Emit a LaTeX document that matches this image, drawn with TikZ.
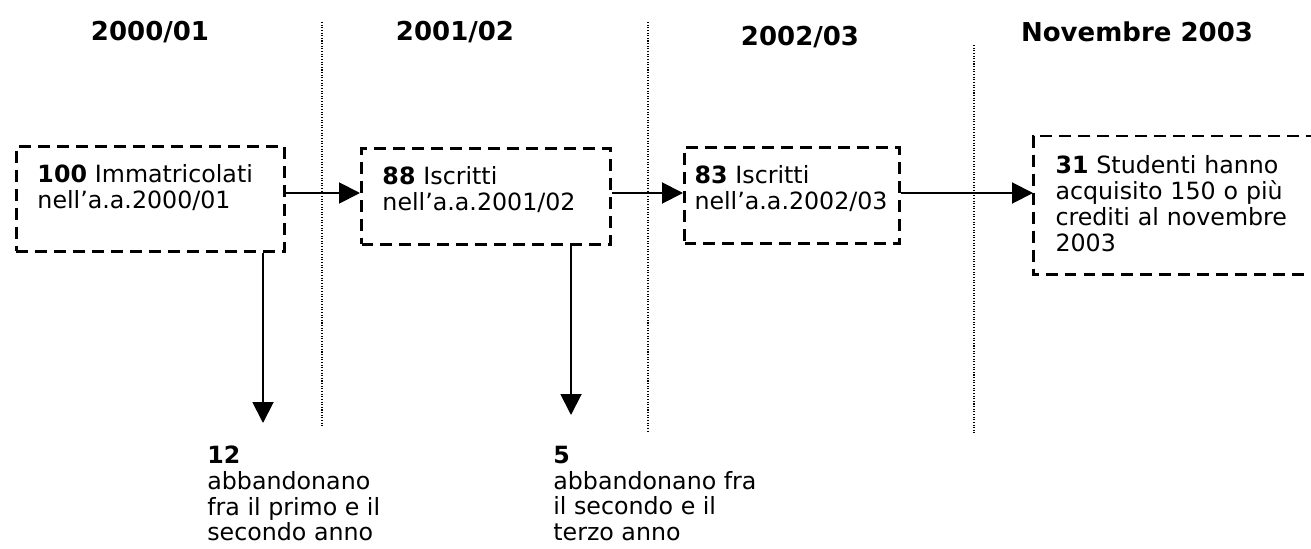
\documentclass[tikz,border=0pt]{standalone}
\usepackage{fontspec}
\setmainfont{DejaVu Sans}
\usetikzlibrary{arrows.meta}
\begin{document}
\begin{tikzpicture}[
	yearlabel/.style={font=\fontsize{14.8}{17}\selectfont\bfseries},
	stagebox/.style={draw,line width=1.7pt,dash pattern=on 6.8pt off 4pt,anchor=north west,align=left,
		inner xsep=0.42cm,inner ysep=0.36cm,text height=0.36cm,font=\fontsize{13.5}{14.8}\selectfont},
	droplabel/.style={anchor=north west,align=left,inner sep=0pt,font=\fontsize{13.5}{14.6}\selectfont},
	divider/.style={line width=0.6pt,dash pattern=on 0.6pt off 0.9pt},
	flow/.style={line width=1.1pt,-{Triangle[length=0.42cm,width=0.42cm]}}]
		\useasboundingbox (0,0) rectangle (26.22,10.96);
		% years
		\node[yearlabel] (y1) at (3.0,10.32) {2000/01};
		\node[yearlabel] (y2) at (9.1,10.32) {2001/02};
		\node[yearlabel] (y3) at (16.0,10.22) {2002/03};
		\node[yearlabel] (y4) at (22.74,10.32) {Novembre 2003};
		\draw [divider] (6.44,10.52)--(6.44,2.42);
		\draw [divider] (12.96,10.52)--(12.96,2.30);
		\draw [divider] (19.48,10.06)--(19.48,2.30);
		% boxes
		\node[stagebox,text width=4.52cm,text depth=1.02cm] (b1) at (0.30,8.06) {\textbf{100} Immatricolati\\nell’a.a.2000/01};
		\node[stagebox,text width=4.14cm,text depth=0.84cm] (b2) at (7.20,8.02) {\textbf{88} Iscritti\\nell’a.a.2001/02};
		\node[stagebox,inner xsep=0.2cm,text width=3.9cm,text depth=0.84cm] (b3) at (13.66,8.04) {\textbf{83} Iscritti\\nell’a.a.2002/03};
		\node[stagebox,draw=none,text width=4.8cm,text depth=1.64cm] (b4) at (20.66,8.24) {\textbf{31} Studenti hanno\\acquisito 150 o più\\crediti al novembre\\2003};
		\draw [line width=1.7pt,dash pattern=on 6.8pt off 4pt] (b4.north east)--(b4.north west)--(b4.south west)--(b4.south east);
		% arrows
		\coordinate (row) at (0,7.1);
		\draw [flow] (b1.east|-row)--(b2.west|-row);
		\draw [flow] (b2.east|-row)--(b3.west|-row);
		\draw [flow] (b3.east|-row)--(b4.west|-row);
		\coordinate (d1) at (5.26,2.5);
		\coordinate (d2) at (11.42,2.66);
		\draw [flow] (b1.south-|d1)--(d1);
		\draw [flow] (b2.south-|d2)--(d2);
		% drop outs
		\node[droplabel] (l1) at (4.14,2.04) {\textbf{12}\\abbandonano\\fra il primo e il\\secondo anno};
		\node[droplabel] (l2) at (11.06,2.04) {\textbf{5}\\abbandonano fra\\il secondo e il\\terzo anno};
\end{tikzpicture}
\end{document}
